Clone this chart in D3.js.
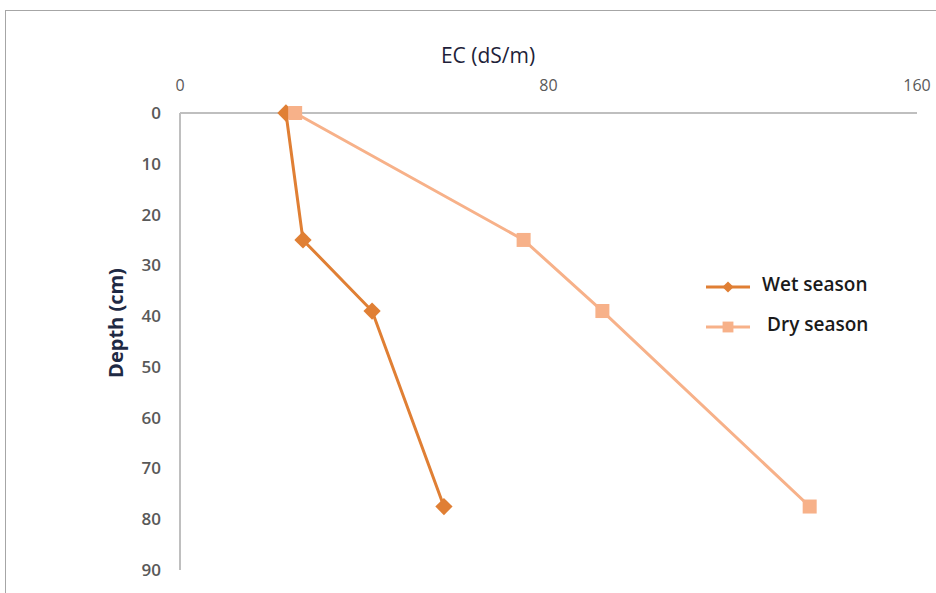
<!DOCTYPE html>
<html>
<head>
<meta charset="utf-8">
<script src="https://cdn.jsdelivr.net/npm/d3@7"></script>
<style>
  body { margin: 0; background: #fff; }
  text { font-family: "Open Sans", "DejaVu Sans", sans-serif; }
</style>
</head>
<body>
<div id="chart"></div>
<script>
var width = 936,
    height = 593;

// data
var depths = [0, 25, 39, 77.5];
var wetEC = [23, 26.7, 41.7, 57.3];
var dryEC = [25, 74.6, 91.7, 136.7];
var xTicks = [0, 80, 160];
var yTicks = [0, 10, 20, 30, 40, 50, 60, 70, 80, 90];

var series = [
    {name: "Wet season", values: wetEC, color: "#e07f34", shape: "diamond"},
    {name: "Dry season", values: dryEC, color: "#f7b189", shape: "square"}
];

var svg = d3.select('#chart').append('svg')
    .attr('width', width)
    .attr('height', height);

// outer frame
svg.append('rect')
    .attr('x', 5.5).attr('y', 10.5)
    .attr('width', 940).attr('height', 600)
    .attr('fill', 'none')
    .attr('stroke', '#a6a6a6')
    .attr('stroke-width', 1);

let scaleX = d3.scaleLinear().domain([0, 160]).range([180, 917]);
let scaleY = d3.scaleLinear().domain([0, 90]).range([113, 570]);

// axis lines
svg.append('line')
    .attr('x1', scaleX(0)).attr('x2', scaleX(160))
    .attr('y1', scaleY(0)).attr('y2', scaleY(0))
    .attr('stroke', '#bfbfbf').attr('stroke-width', 2);
svg.append('line')
    .attr('x1', scaleX(0)).attr('x2', scaleX(0))
    .attr('y1', scaleY(0)).attr('y2', scaleY(90))
    .attr('stroke', '#bfbfbf').attr('stroke-width', 2);

// tick labels
svg.selectAll('.xtick').data(xTicks).enter().append('text')
    .attr('class', 'xtick')
    .attr('x', d => scaleX(d))
    .attr('y', 91)
    .attr('text-anchor', 'middle')
    .attr('font-size', 16)
    .attr('fill', '#595959')
    .text(d => d);

svg.selectAll('.ytick').data(yTicks).enter().append('text')
    .attr('class', 'ytick')
    .attr('x', 161)
    .attr('y', d => scaleY(d) + 6)
    .attr('text-anchor', 'end')
    .attr('font-size', 17)
    .attr('font-weight', 600)
    .attr('fill', '#595959')
    .text(d => d);

// axis titles
svg.append('text')
    .attr('x', 488).attr('y', 63)
    .attr('text-anchor', 'middle')
    .attr('font-size', 21)
    .attr('fill', '#1f1f3a')
    .text('EC (dS/m)');

svg.append('text')
    .attr('transform', 'translate(123,323) rotate(-90)')
    .attr('text-anchor', 'middle')
    .attr('font-size', 20)
    .attr('font-weight', 'bold')
    .attr('fill', '#1f2a44')
    .text('Depth (cm)');

var lineFunc = d3.line()
    .x(d => scaleX(d.x))
    .y(d => scaleY(d.y));

function markerPath(shape) {
    return shape == "diamond"
        ? d3.symbol().type(d3.symbolDiamond2).size(190)()
        : d3.symbol().type(d3.symbolSquare2).size(250)();
}

var g = svg.append('g');
series.forEach(s => {
    let pts = depths.map((dp, i) => ({x: s.values[i], y: dp}));
    g.append('path')
        .attr('d', lineFunc(pts))
        .attr('fill', 'none')
        .attr('stroke', s.color)
        .attr('stroke-width', 3);
    g.selectAll('.m' + s.shape).data(pts).enter().append('path')
        .attr('transform', d => 'translate(' + scaleX(d.x) + ',' + scaleY(d.y) + ')')
        .attr('d', markerPath(s.shape))
        .attr('fill', s.color);
});

// legend
var legend = svg.append('g').attr('class', 'legend');
series.forEach((s, i) => {
    let ly = 287 + i * 40;
    legend.append('line')
        .attr('x1', 706).attr('x2', 750)
        .attr('y1', ly).attr('y2', ly)
        .attr('stroke', s.color).attr('stroke-width', 3);
    legend.append('path')
        .attr('transform', 'translate(728,' + ly + ')')
        .attr('d', s.shape == "diamond"
            ? d3.symbol().type(d3.symbolDiamond2).size(80)()
            : d3.symbol().type(d3.symbolSquare2).size(150)())
        .attr('fill', s.color);
    legend.append('text')
        .attr('x', i == 0 ? 762 : 767)
        .attr('y', ly + 4)
        .attr('font-size', 19)
        .attr('font-weight', 600)
        .attr('fill', '#1a1a1a')
        .text(s.name);
});
</script>
</body>
</html>
